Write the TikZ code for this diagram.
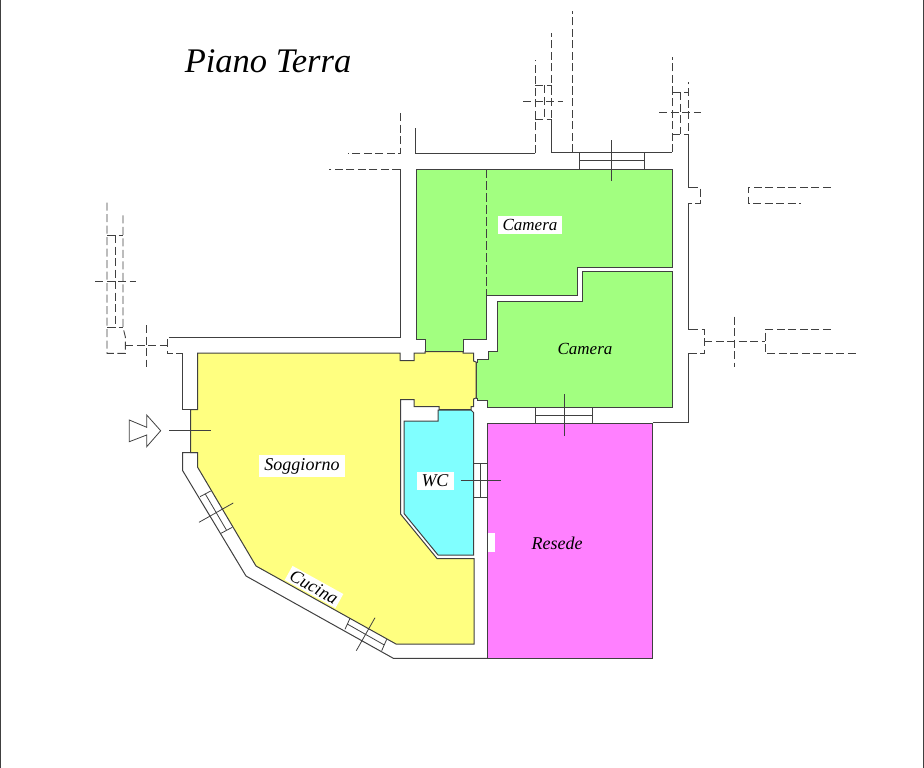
\documentclass[tikz,border=0pt]{standalone}
\usepackage{fontspec}
\setmainfont{Liberation Serif}
\definecolor{greenroom}{HTML}{A2FF80}
\definecolor{yellowroom}{HTML}{FFFF80}
\definecolor{blueroom}{HTML}{80FFFF}
\definecolor{pinkroom}{HTML}{FF80FF}
\definecolor{planline}{HTML}{404040}

\begin{document}
\begin{tikzpicture}[x=1pt,y=-1pt,line width=1pt,draw=planline,
                room/.style={draw=planline,line width=1pt},
                hidden/.style={draw=planline,line width=.9pt,dash pattern=on 8pt off 3.5pt},
                fixture/.style={draw=planline,line width=.8pt},
                room label/.style={font=\fontsize{18}{20}\selectfont\itshape,inner sep=1pt},
                boxed label/.style={room label,fill=white,inner xsep=5pt,inner ysep=3pt}]

  \useasboundingbox (0,0) rectangle (924,768);
  \draw[line width=1.5pt] (.5,0) -- (.5,768) (923.5,0) -- (923.5,768);

  % rooms
  \path[room,fill=greenroom] (416,169) -- (672,169) -- (672,267) -- (577,267) -- (577,295) -- (486,295)
    -- (486,339) -- (463,339) -- (463,351.5) -- (425,351.5) -- (425,339) -- (416,339) -- cycle;
  \path[room,fill=greenroom] (497,301) -- (582,301) -- (582,271) -- (672,271) -- (672,407) -- (487.5,407)
    -- (487.5,400.5) -- (477.5,400.5) -- (477.5,398) -- (476,398) -- (476,362) -- (477.5,362)
    -- (477.5,359) -- (488,359) -- (488,351) -- (497,351) -- cycle;
  \path[room,fill=yellowroom] (197.5,353) -- (400,353) -- (400,360.5) -- (414,360.5) -- (414,353) -- (425,353)
    -- (425,351.5) -- (463,351.5) -- (463,353) -- (473.5,353) -- (473.5,361) -- (476,362) -- (476,398)
    -- (473.5,399) -- (473.5,406.5) -- (471,406.5) -- (471,409.5) -- (439,409.5) -- (439,406.5) -- (414,406.5)
    -- (414,399.5) -- (400.5,399.5) -- (400.5,514) -- (437,558.5) -- (474,558.5) -- (474,644) -- (396,644)
    -- (256,566) -- (197.5,467) -- (197.5,452.5) -- (190.5,452.5) -- (190.5,409.5) -- (197.5,409.5) -- cycle;
  \path[room,fill=blueroom] (404,421) -- (438,421) -- (438,410) -- (471,410) -- (473.5,412.5) -- (473.5,555)
    -- (438,555) -- (404,513.5) -- cycle;
  \path[room,fill=pinkroom] (487.5,423) rectangle (652.5,658.5);
  \fill[white] (488,533) rectangle (495,552);
  \draw[hidden,dash pattern=on 9pt off 3pt] (486.5,169) -- (486.5,295);

  % outer walls
  \draw (415.7,128) -- (415.7,153.3) -- (535,153.3);
  \draw (551.7,120) -- (551.7,152) -- (672.3,152);
  \draw (400.3,169.3) -- (400.3,337.3) -- (177,337.3);
  \draw (182.7,353.3) -- (182.7,409.3) -- (197.5,409.3);
  \draw (197.5,452.5) -- (182.7,452.5) -- (182.7,470.7) -- (246,576) -- (393.3,658.3) -- (487.5,658.3);
  \draw (688.3,142) -- (688.3,187) -- (692,187) (692,203.3) -- (688.3,203.3) -- (688.3,329.3) -- (692,329.3)
    (692,353.3) -- (688.3,353.3) -- (688.3,422.7) -- (652.5,422.7);

  % hidden walls, top left
  \draw[hidden] (400.3,113) -- (400.3,153.3) -- (348,153.3);
  \draw[hidden] (400.3,169.3) -- (329,169.3);
  % hidden walls, top middle
  \draw[hidden] (535,153.3) -- (535,60);
  \draw[hidden] (551.7,152) -- (551.7,33);
  \draw[hidden] (572,152) -- (572,11);
  \draw[hidden] (535,85.5) -- (551.7,85.5) (535,119) -- (551.7,119);
  \draw[hidden] (544,85.5) -- (544,119);
  \draw[hidden] (523,101.7) -- (563,101.7);
  % hidden walls, top right
  \draw[hidden] (672.3,152) -- (672.3,56.7);
  \draw[hidden] (688.3,142) -- (688.3,81.7);
  \draw[hidden] (672.3,92.3) -- (688.3,92.3) (672.3,134) -- (688.3,134);
  \draw[hidden] (680.3,92.3) -- (680.3,134);
  \draw[hidden] (659.3,112.7) -- (700.7,112.7);
  % hidden walls, right side
  \draw[hidden] (690,187) -- (700,187) -- (700,203.3) -- (690,203.3);
  \draw[hidden] (830.7,187) -- (748.3,187) -- (748.3,203.3) -- (800.7,203.3);
  \draw[hidden] (690,329.3) -- (704.3,329.3) -- (704.3,353.3) -- (690,353.3);
  \draw[hidden] (704.3,341) -- (765,341);
  \draw[hidden] (734.7,316.7) -- (734.7,366.7);
  \draw[hidden] (830.7,329.3) -- (765,329.3) -- (765,353.3) -- (858.3,353.3);
  % hidden walls, left side
  \draw[hidden] (107,202.7) -- (107,353.3) -- (125.3,353.3) -- (125.3,336.7) -- (123,327.3) -- (123,213.3);
  \draw[hidden] (107,235) -- (123,235) (107,327.3) -- (123,327.3);
  \draw[hidden] (115,235) -- (115,327.3);
  \draw[hidden] (95,281.3) -- (135.7,281.3);
  \draw[hidden] (125.3,345.3) -- (167.3,345.3);
  \draw[hidden] (146,325) -- (146,366.7);
  \draw[hidden] (177,337.3) -- (167.3,337.3) -- (167.3,353.3) -- (182.7,353.3);

  % windows and doors
  \draw[fixture] (579.3,152) -- (579.3,169) (644.7,152) -- (644.7,169) (579.3,160) -- (644.7,160) (611.7,140) -- (611.7,181);
  \draw[fixture] (535.3,407) -- (535.3,423) (592.3,407) -- (592.3,423) (535.3,415) -- (592.3,415) (564,394) -- (564,435.7);
  \draw[fixture] (474,463.3) -- (487.5,463.3) (474,497.3) -- (487.5,497.3) (480.7,463.3) -- (480.7,497.3) (460.7,480) -- (500.7,480);
  \draw[fixture] (200,496.7) -- (210.7,491) (221,533.3) -- (232.3,527.3) (205.3,494) -- (226.7,530.5) (199,522.3) -- (233.3,503);
  \draw[fixture] (350,618.3) -- (345,629.3) (386.7,639.3) -- (381.7,650.7) (347.3,624) -- (384.3,645) (375,617.7) -- (356.3,650.7);
  \draw[fixture] (169.3,430.7) -- (210.7,430.7);
  \draw[fixture] (129.3,420) -- (146.7,427.3) -- (146.7,415) -- (160.7,430.7) -- (146.7,446.7) -- (146.7,435) -- (129.3,441.7) -- cycle;

  % labels
  \node[font=\fontsize{34.5}{36}\selectfont\itshape,inner sep=0pt] (title) at (268,61) {Piano Terra};
  \node[boxed label,font=\fontsize{17}{20}\selectfont\itshape] (camera top) at (530,225) {Camera};
  \node[room label,font=\fontsize{17}{20}\selectfont\itshape] (camera bottom) at (585,349) {Camera};
  \node[boxed label] (soggiorno) at (302,466) {Soggiorno};
  \node[boxed label] (wc) at (435,481) {WC};
  \node[room label] (resede) at (557,543) {Resede};
  \node[boxed label,rotate=-29,inner xsep=3pt,inner ysep=2pt] (cucina) at (314,587) {Cucina};
\end{tikzpicture}
\end{document}
